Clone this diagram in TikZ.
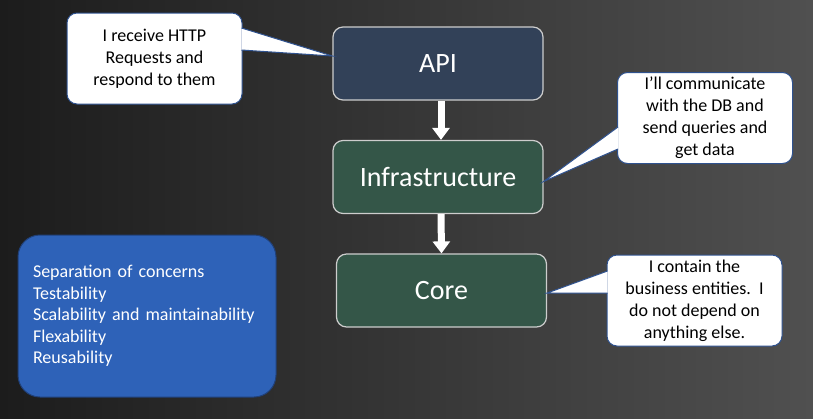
\documentclass[tikz,border=0pt]{standalone}
\usepackage{fontspec}
\setmainfont{Carlito}
\usetikzlibrary{positioning,arrows.meta}

\definecolor{bgdark}{RGB}{28,28,28}
\definecolor{bglight}{RGB}{80,80,80}
\definecolor{apiblue}{RGB}{50,65,88}
\definecolor{layergreen}{RGB}{52,86,72}
\definecolor{framegrey}{RGB}{205,205,205}
\definecolor{noteline}{RGB}{47,82,143}
\definecolor{listblue}{RGB}{46,98,184}
\definecolor{listline}{RGB}{32,64,120}

\begin{document}
\begin{tikzpicture}[x=1pt,y=-1pt,node distance=113.5pt,on grid,
	layer/.style={draw=framegrey,line width=1.2pt,rounded corners=10pt,minimum width=210pt,minimum height=73pt,text=white,font=\fontsize{28}{34}\selectfont},
	note/.style={draw=noteline,line width=1pt,fill=white,rounded corners=10pt,minimum width=175pt,minimum height=91pt,inner sep=2pt,align=center,font=\fontsize{18}{22}\selectfont},
	pointer/.style={draw=noteline,line width=1pt,fill=white},
	flow/.style={white,line width=7pt,-{Triangle[width=17pt,length=12pt]}}]
	   \fill[left color=bgdark,right color=bglight] (0,0) rectangle (813,418);
	   \useasboundingbox (0,0) rectangle (813,418);
	   % layers
	   \node[layer,fill=apiblue] (api) at (438,63.5) {API};
	   \node[layer,fill=layergreen] (infra) [below=of api] {Infrastructure};
	   \node[layer,fill=layergreen] (core) [below=of infra,xshift=3.5pt] {Core};
	   \draw[flow] ([xshift=3pt]api.south) -- ([xshift=3pt]infra.north);
	   \draw[flow] ([xshift=3pt]infra.south) -- (core.north);
	   % notes
	   \node[note] (reqNote) at (154.5,58.5) {I receive HTTP\\Requests and\\respond to them};
	   \node[note] (dbNote) at (705,118) {I'll communicate\\with the DB and\\send queries and\\get data};
	   \node[note] (coreNote) at (694.5,300.5) {I contain the\\business entities.\ \ I\\do not depend on\\anything else.};
	   \coordinate (reqA) at ([xshift=-1pt,yshift=30.5pt]reqNote.east);
	   \coordinate (reqB) at ([xshift=-1pt,yshift=8.5pt]reqNote.east);
	   \coordinate (dbA) at ([xshift=1pt,yshift=-9pt]dbNote.west);
	   \coordinate (dbB) at ([xshift=1pt,yshift=-31pt]dbNote.west);
	   \coordinate (coreA) at ([xshift=1pt,yshift=29.5pt]coreNote.west);
	   \coordinate (coreB) at ([xshift=1pt,yshift=7.5pt]coreNote.west);
	   \filldraw[pointer] (reqA) -- ([yshift=7.5pt]api.west) -- (reqB);
	   \filldraw[pointer] (dbA) -- ([yshift=-4.5pt]infra.east) -- (dbB);
	   \filldraw[pointer] (coreA) -- ([yshift=-2.5pt]core.east) -- (coreB);
	   % benefits
	   \node[draw=listline,line width=1pt,fill=listblue,rounded corners=22pt,text width=228pt,inner xsep=15pt,minimum height=162pt,align=left,text=white,font=\fontsize{18}{21.5}\selectfont] (benefits) at (147,316) {Separation of concerns\\Testability\\Scalability and maintainability\\Flexability\\Reusability};
\end{tikzpicture}
\end{document}
